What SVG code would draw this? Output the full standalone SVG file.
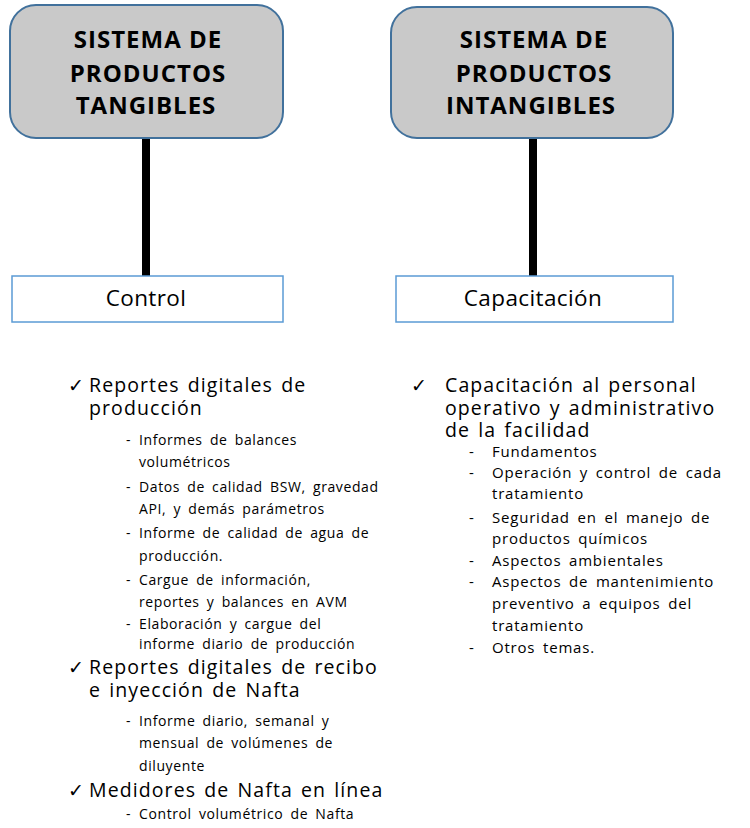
<svg xmlns="http://www.w3.org/2000/svg" width="750" height="828" viewBox="0 0 750 828">
  <style>
    .sys{fill:#c9c9c9;stroke:#41719c;stroke-width:2}
    .sys-t{font-family:"Open Sans","Liberation Sans",sans-serif;font-weight:bold;font-size:24px;letter-spacing:1px;fill:#000;text-anchor:middle}
    .lab{fill:#fff;stroke:#5b9bd5;stroke-width:1.5}
    .lab-t{font-family:"Open Sans","Liberation Sans",sans-serif;font-size:22.5px;letter-spacing:0.4px;fill:#000;text-anchor:middle}
    .link{stroke:#000;stroke-width:8}
    .chk{font-family:"DejaVu Sans",sans-serif;font-size:19px;fill:#000}
    .main{font-family:"Open Sans","Liberation Sans",sans-serif;font-size:19.5px;letter-spacing:1.1px;word-spacing:2px;fill:#000}
    .sub{font-family:"Open Sans","Liberation Sans",sans-serif;font-size:14px;letter-spacing:0.6px;word-spacing:3px;fill:#000}
    .sub-r{font-family:"Open Sans","Liberation Sans",sans-serif;font-size:15px;letter-spacing:0.8px;word-spacing:3px;fill:#000}
  </style>

  <!-- connectors between system boxes and their labels -->
  <g id="connectors">
    <line class="link" x1="146" y1="138" x2="146" y2="276"/>
    <line class="link" x1="533" y1="138" x2="533" y2="276"/>
  </g>

  <g id="tangibles">
    <rect class="sys" x="10" y="5" width="273" height="133" rx="26"/>
    <text class="sys-t" x="148" y="48">SISTEMA DE</text>
    <text class="sys-t" x="148" y="82">PRODUCTOS</text>
    <text class="sys-t" x="146" y="114">TANGIBLES</text>
  </g>

  <g id="intangibles">
    <rect class="sys" x="391" y="7" width="282" height="131" rx="26"/>
    <text class="sys-t" x="534" y="48">SISTEMA DE</text>
    <text class="sys-t" x="534" y="82">PRODUCTOS</text>
    <text class="sys-t" x="531" y="114">INTANGIBLES</text>
  </g>

  <g id="control">
    <rect class="lab" x="12" y="276" width="271" height="46"/>
    <text class="lab-t" x="146" y="306">Control</text>
  </g>

  <g id="capacitacion">
    <rect class="lab" x="396" y="276" width="277" height="46"/>
    <text class="lab-t" x="533" y="306">Capacitación</text>
  </g>

  <!-- control task list -->
  <g id="control-list">
    <text class="chk" x="68" y="392">✓</text>
    <text class="main" x="89" y="392">Reportes digitales de</text>
    <text class="main" x="89" y="415">producción</text>
    <text class="sub" x="126" y="445">-</text>
    <text class="sub" x="139" y="445">Informes de balances</text>
    <text class="sub" x="139" y="467">volumétricos</text>
    <text class="sub" x="126" y="492">-</text>
    <text class="sub" x="139" y="492">Datos de calidad BSW, gravedad</text>
    <text class="sub" x="139" y="514">API, y demás parámetros</text>
    <text class="sub" x="126" y="538">-</text>
    <text class="sub" x="139" y="538">Informe de calidad de agua de</text>
    <text class="sub" x="139" y="561">producción.</text>
    <text class="sub" x="126" y="585">-</text>
    <text class="sub" x="139" y="585">Cargue de información,</text>
    <text class="sub" x="139" y="607">reportes y balances en AVM</text>
    <text class="sub" x="126" y="629">-</text>
    <text class="sub" x="139" y="629">Elaboración y cargue del</text>
    <text class="sub" x="139" y="649">informe diario de producción</text>

    <text class="chk" x="68" y="674">✓</text>
    <text class="main" x="89" y="674">Reportes digitales de recibo</text>
    <text class="main" x="89" y="697">e inyección de Nafta</text>
    <text class="sub" x="126" y="726">-</text>
    <text class="sub" x="139" y="726">Informe diario, semanal y</text>
    <text class="sub" x="139" y="748">mensual de volúmenes de</text>
    <text class="sub" x="139" y="771">diluyente</text>

    <text class="chk" x="68" y="797">✓</text>
    <text class="main" x="89" y="797">Medidores de Nafta en línea</text>
    <text class="sub" x="126" y="819">-</text>
    <text class="sub" x="139" y="819">Control volumétrico de Nafta</text>
  </g>

  <!-- training topic list -->
  <g id="capacitacion-list">
    <text class="chk" x="411" y="392">✓</text>
    <text class="main" x="445" y="392">Capacitación al personal</text>
    <text class="main" x="445" y="415">operativo y administrativo</text>
    <text class="main" x="445" y="437">de la facilidad</text>
    <text class="sub-r" x="469" y="457">-</text>
    <text class="sub-r" x="492" y="457">Fundamentos</text>
    <text class="sub-r" x="469" y="478">-</text>
    <text class="sub-r" x="492" y="478">Operación y control de cada</text>
    <text class="sub-r" x="492" y="499">tratamiento</text>
    <text class="sub-r" x="469" y="523">-</text>
    <text class="sub-r" x="492" y="523">Seguridad en el manejo de</text>
    <text class="sub-r" x="492" y="544">productos químicos</text>
    <text class="sub-r" x="469" y="566">-</text>
    <text class="sub-r" x="492" y="566">Aspectos ambientales</text>
    <text class="sub-r" x="469" y="587">-</text>
    <text class="sub-r" x="492" y="587">Aspectos de mantenimiento</text>
    <text class="sub-r" x="492" y="609">preventivo a equipos del</text>
    <text class="sub-r" x="492" y="631">tratamiento</text>
    <text class="sub-r" x="469" y="653">-</text>
    <text class="sub-r" x="492" y="653">Otros temas.</text>
  </g>
</svg>
